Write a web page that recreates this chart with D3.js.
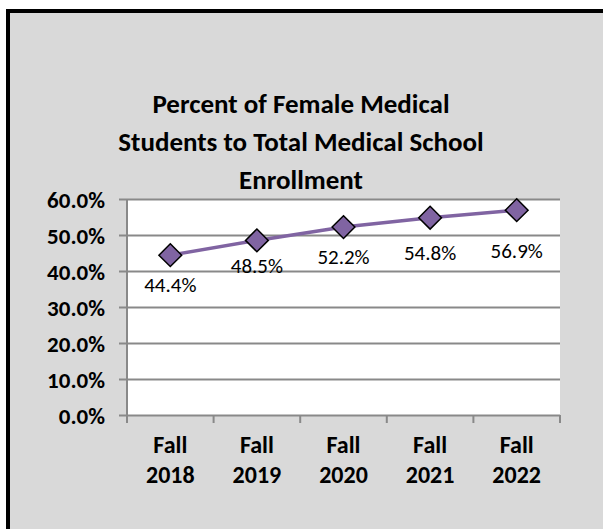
<!DOCTYPE html>
<html>
<head>
<meta charset="utf-8">
<script src="https://cdn.jsdelivr.net/npm/d3@7"></script>
<style>
  html, body { margin: 0; background: #fff; overflow: hidden; }
  svg { display: block; }
  text { font-family: Calibri, Carlito, Lato, sans-serif; fill: #000; }
</style>
</head>
<body>
<div id="chart"></div>
<script>
// data
const years = ['Fall 2018', 'Fall 2019', 'Fall 2020', 'Fall 2021', 'Fall 2022'];
const femaleShare = [0.444, 0.485, 0.522, 0.548, 0.569];
const yTicks = [0, 0.1, 0.2, 0.3, 0.4, 0.5, 0.6];
const titleLines = ['Percent of Female Medical', 'Students to Total Medical School', 'Enrollment'];

// how far below each point its label sits (labels were nudged by hand in the original)
const labelDy = [29, 25, 30, 35, 40];

const width = 603, height = 529;
const plot = { left: 127, right: 560, top: 199, bottom: 415 };
const purple = '#8064a2';
const gridColor = '#898989';

const svg = d3.select('#chart').append('svg')
  .attr('width', width)
  .attr('height', height);

// chart area background; the frame only shows on the top and left,
// the rest runs off the picture
svg.append('rect')
  .attr('x', 8).attr('y', 11)
  .attr('width', width).attr('height', height)
  .attr('fill', '#d9d9d9');
svg.append('path')
  .attr('d', `M8,${height}V11H${width}`)
  .attr('fill', 'none')
  .attr('stroke', '#000')
  .attr('stroke-width', 4);

// title
svg.append('g').selectAll('text')
  .data(titleLines)
  .enter().append('text')
  .attr('x', 301)
  .attr('y', (d, i) => 113 + i * 38)
  .attr('text-anchor', 'middle')
  .style('font-size', '27px')
  .style('font-weight', 700)
  .text(d => d);

const x = d3.scaleBand().domain(years).range([plot.left, plot.right]);
const y = d3.scaleLinear().domain([0, 0.6]).range([plot.bottom, plot.top]);

svg.append('rect')
  .attr('x', plot.left).attr('y', plot.top)
  .attr('width', plot.right - plot.left).attr('height', plot.bottom - plot.top)
  .attr('fill', '#fff');

// y axis: gridlines, ticks, labels
const yAxis = svg.append('g')
  .attr('transform', `translate(${plot.left},0)`)
  .call(d3.axisLeft(y).tickValues(yTicks).tickFormat(d3.format('.1%'))
    .tickSize(-(plot.right - plot.left)).tickPadding(22));
yAxis.select('.domain').remove();
yAxis.selectAll('.tick line')
  .attr('x1', -8)
  .attr('stroke', gridColor)
  .attr('stroke-width', 2);
yAxis.selectAll('.tick text')
  .style('font-size', '23px')
  .style('font-weight', 700)
  .attr('dy', '0.35em');

svg.append('line')
  .attr('x1', plot.left).attr('x2', plot.left)
  .attr('y1', plot.top).attr('y2', plot.bottom)
  .attr('stroke', gridColor).attr('stroke-width', 2);

// x axis ticks at category boundaries
const bounds = years.map(d => x(d)).concat([x.range()[1]]);
svg.append('g').selectAll('line')
  .data(bounds)
  .enter().append('line')
  .attr('x1', d => d).attr('x2', d => d)
  .attr('y1', plot.bottom).attr('y2', plot.bottom + 8)
  .attr('stroke', gridColor).attr('stroke-width', 2);

const xLabels = svg.append('g').selectAll('text')
  .data(years)
  .enter().append('text')
  .attr('text-anchor', 'middle')
  .style('font-size', '24px')
  .style('font-weight', 700);
xLabels.selectAll('tspan')
  .data(d => d.split(' ').map(w => ({ w, cx: x(d) + x.bandwidth() / 2 })))
  .enter().append('tspan')
  .attr('x', d => d.cx)
  .attr('y', (d, i) => 453 + i * 30)
  .text(d => d.w);

// series
const cx = (d, i) => x(years[i]) + x.bandwidth() / 2;
const line = d3.line().x(cx).y(d => y(d));

svg.append('path')
  .datum(femaleShare)
  .attr('d', line)
  .attr('fill', 'none')
  .attr('stroke', purple)
  .attr('stroke-width', 3.5);

const diamond = d3.symbol().type(d3.symbolDiamond2).size(330);
svg.append('g').selectAll('path')
  .data(femaleShare)
  .enter().append('path')
  .attr('d', diamond)
  .attr('transform', (d, i) => `translate(${cx(d, i)},${y(d)})`)
  .attr('fill', purple)
  .attr('stroke', '#000')
  .attr('stroke-width', 1.5);

svg.append('g').selectAll('text')
  .data(femaleShare)
  .enter().append('text')
  .attr('x', cx)
  .attr('y', (d, i) => y(d) + labelDy[i])
  .attr('dy', '0.35em')
  .attr('text-anchor', 'middle')
  .style('font-size', '21px')
  .text(d => d3.format('.1%')(d));
</script>
</body>
</html>
